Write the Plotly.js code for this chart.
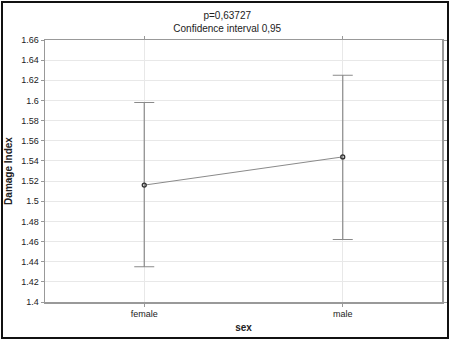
<!DOCTYPE html>
<html>
<head>
<meta charset="utf-8">
<script src="https://cdn.plot.ly/plotly-3.0.1.min.js"></script>
<style>
html,body{margin:0;padding:0;background:#fff;}
#wrap{position:relative;width:450px;height:341px;}
#chart{width:450px;height:341px;}
#frame{position:absolute;left:1px;top:1px;width:444px;height:334px;border:2px solid #111;pointer-events:none;}
</style>
</head>
<body>
<div id="wrap"><div id="chart"></div><div id="frame"></div></div>
<script>
const categories = ["female", "male"];
const means = [1.516, 1.544];
const upper = [1.598, 1.625];
const lower = [1.435, 1.462];
const titleLines = ["p=0,63727", "Confidence interval 0,95"];
const xTitle = "sex";
const yTitle = "Damage Index";

const errPlus = upper.map((u, i) => u - means[i]);
const errMinus = lower.map((l, i) => means[i] - l);

const trace = {
  x: categories,
  y: means,
  type: "scatter",
  mode: "lines+markers",
  line: {color: "#8a8a8a", width: 1},
  marker: {symbol: "circle-open", size: 4, color: "#333", line: {width: 1.3, color: "#333"}},
  error_y: {type: "data", symmetric: false, array: errPlus, arrayminus: errMinus,
            color: "#8a8a8a", thickness: 1.2, width: 10},
  hoverinfo: "none"
};

const font = {family: "Liberation Sans, Arial, sans-serif", size: 9, color: "#222"};
const layout = {
  width: 450, height: 341,
  margin: {l: 45, r: 8, t: 40, b: 39},
  paper_bgcolor: "#fff", plot_bgcolor: "#fff",
  showlegend: false,
  font: font,
  title: {text: titleLines.join("<br>"), x: 0.505, xref: "container", y: 0.945, yanchor: "top",
          font: {family: "Liberation Sans, Arial, sans-serif", size: 10, color: "#222"}},
  xaxis: {
    type: "category", range: [-0.5, 1.5],
    showgrid: true, gridcolor: "#e8e8e8", gridwidth: 1,
    showline: true, linecolor: "#999", linewidth: 1.5, mirror: "ticks",
    ticks: "outside", ticklen: 3, tickcolor: "#999",
    tickfont: {family: "Liberation Sans, Arial, sans-serif", size: 9, color: "#222"},
    title: {text: "<b>" + xTitle + "</b>", standoff: 5,
            font: {family: "Liberation Sans, Arial, sans-serif", size: 10, color: "#222"}},
    zeroline: false, fixedrange: true
  },
  yaxis: {
    range: [1.4, 1.66], dtick: 0.02, tick0: 1.4,
    showgrid: true, gridcolor: "#e8e8e8", gridwidth: 1,
    showline: true, linecolor: "#999", linewidth: 1.5, mirror: "ticks",
    ticks: "outside", ticklen: 3, tickcolor: "#999",
    tickfont: {family: "Liberation Sans, Arial, sans-serif", size: 9, color: "#222"},
    title: {text: "<b>" + yTitle + "</b>", standoff: 6,
            font: {family: "Liberation Sans, Arial, sans-serif", size: 10, color: "#222"}},
    zeroline: false, fixedrange: true
  }
};

Plotly.newPlot("chart", [trace], layout, {displayModeBar: false, staticPlot: true});
</script>
</body>
</html>
